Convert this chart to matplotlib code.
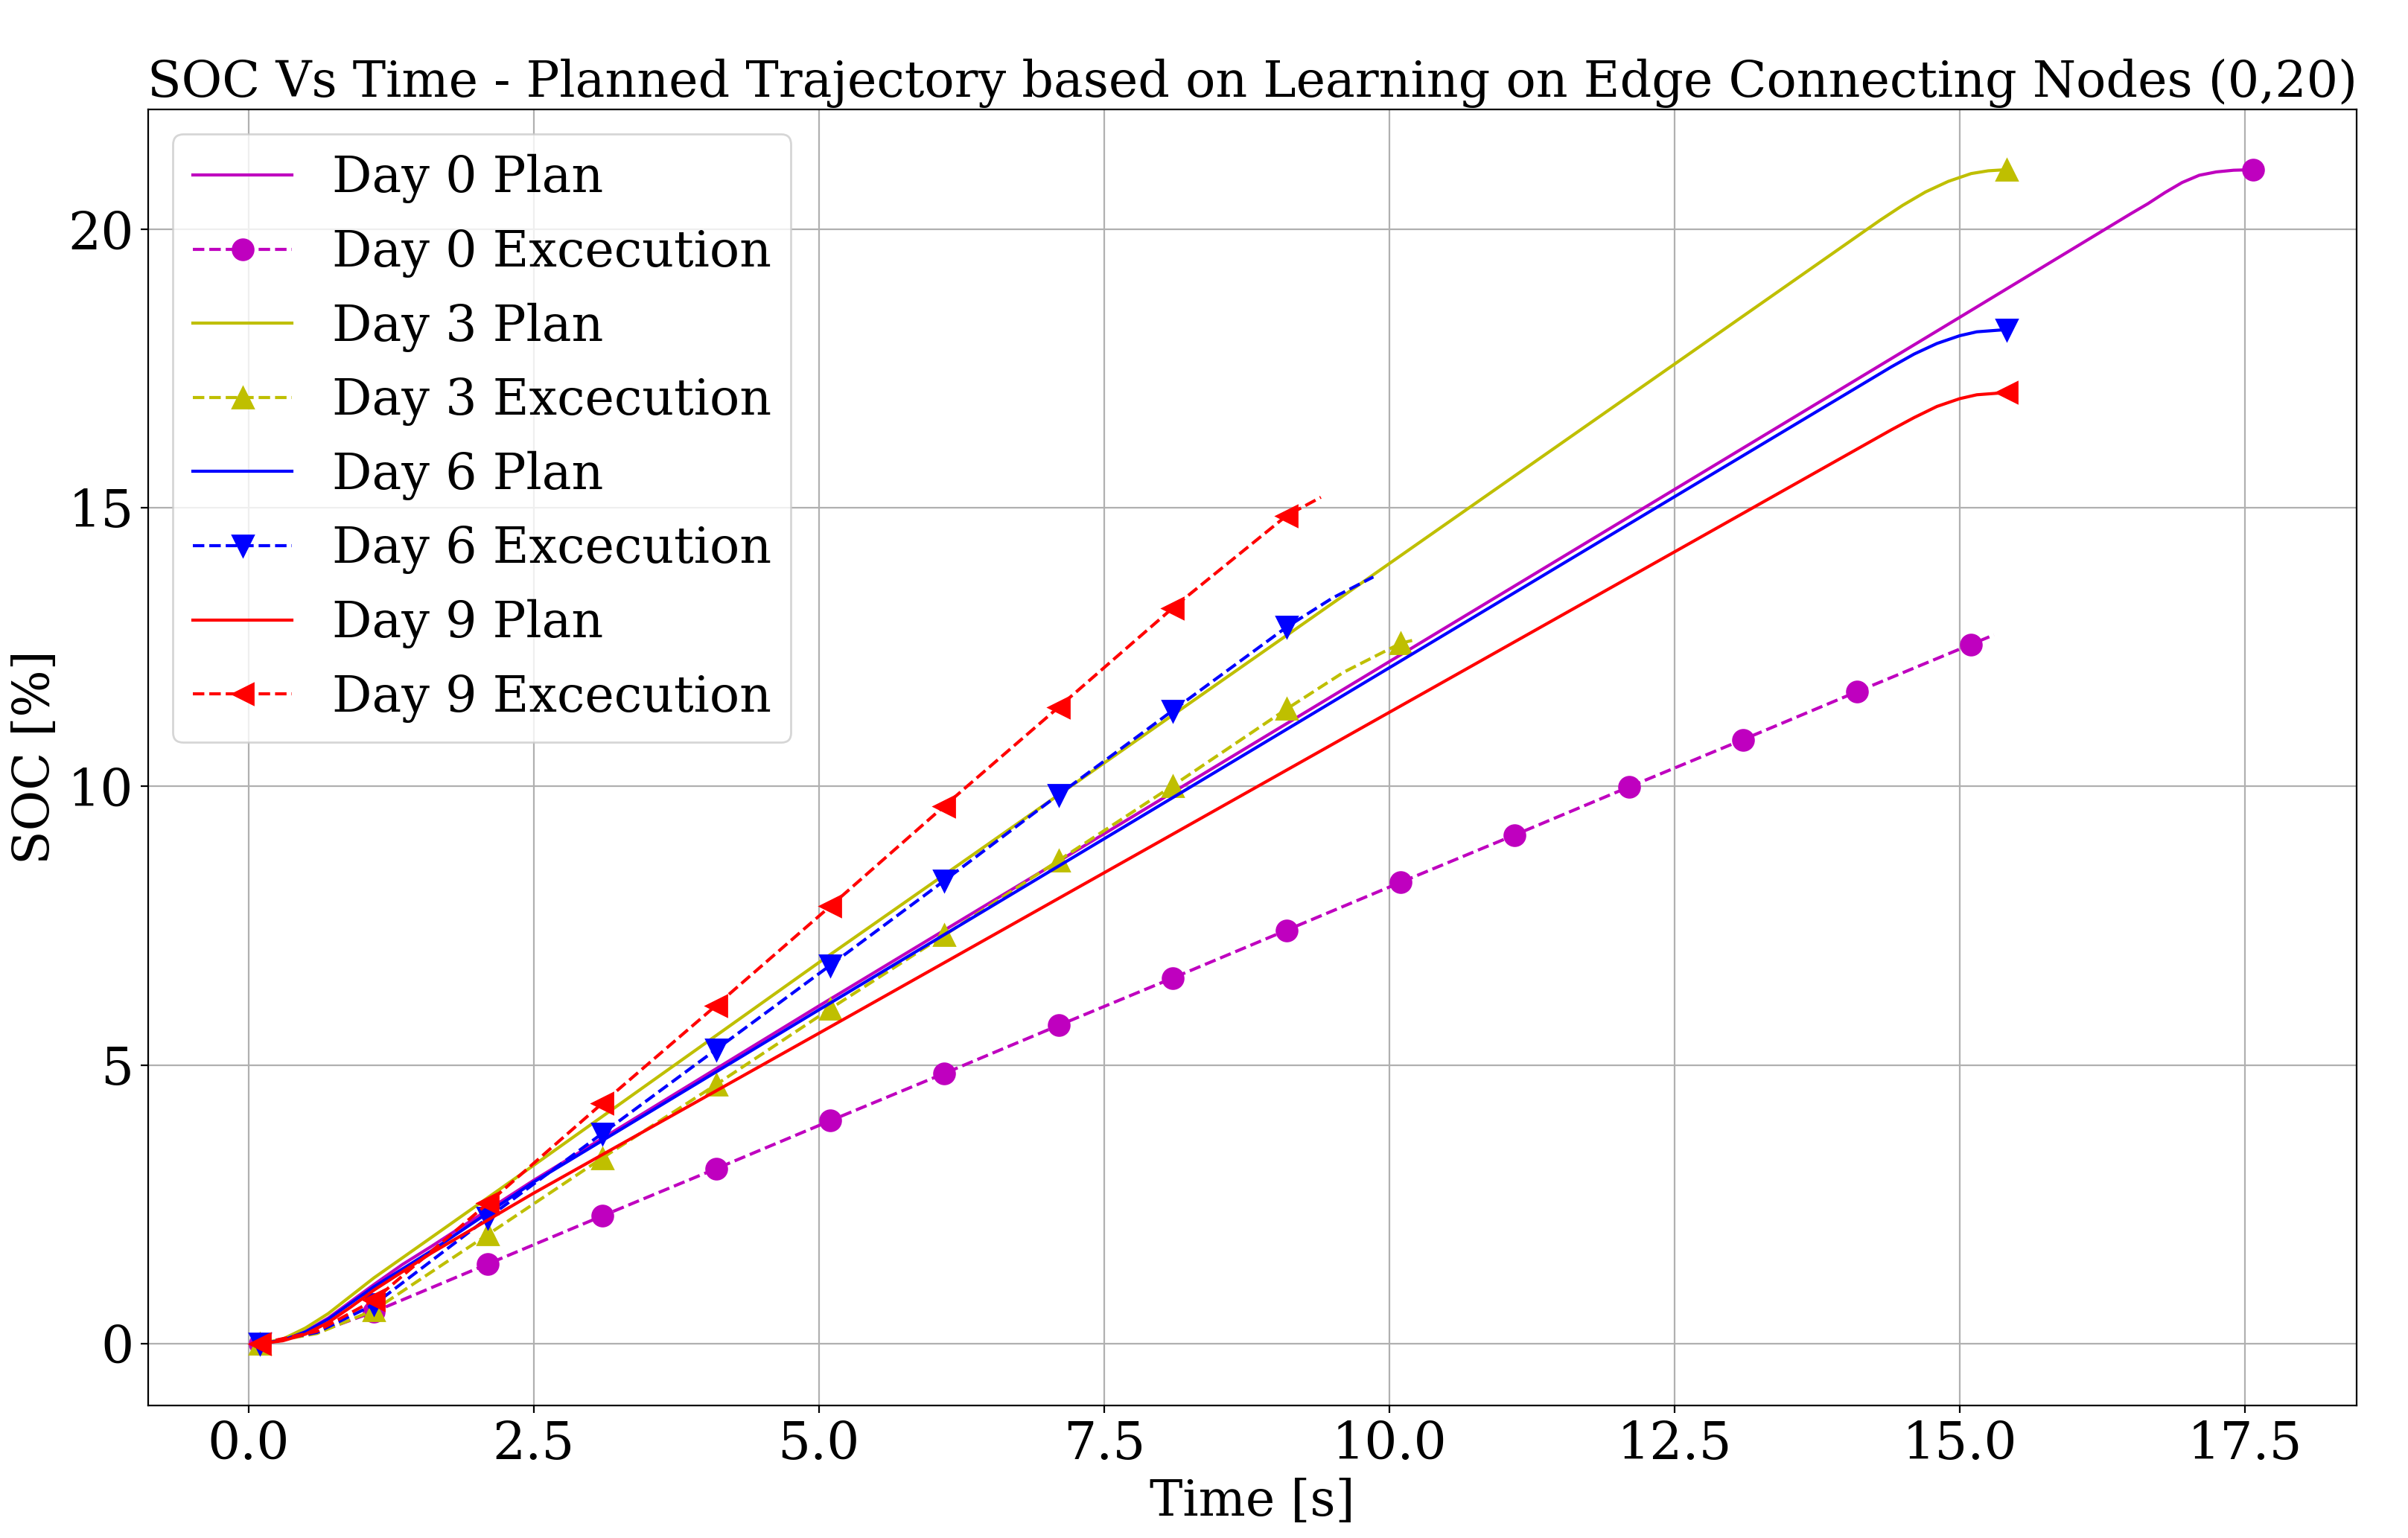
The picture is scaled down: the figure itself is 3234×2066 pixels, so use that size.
import numpy as np
import matplotlib
matplotlib.use("Agg")
import matplotlib.pyplot as plt

plt.rcParams['font.family'] = 'serif'
plt.rcParams['font.serif'] = ['DejaVu Serif']
plt.rcParams['font.size'] = 25

# planned trajectories (time [s], SOC [%])
plan0_t = [0.1, 0.3, 0.5, 0.7, 0.9, 1.1, 1.35, 1.6, 2.5, 5.0, 7.5, 10.0, 12.5, 15.0,
           16.5, 16.65, 16.8, 16.95, 17.1, 17.25, 17.4, 17.57]
plan0_soc = [0.0, 0.06, 0.22, 0.46, 0.76, 1.06, 1.42, 1.74, 2.93, 6.06, 9.15, 12.24, 15.33, 18.42,
             20.28, 20.46, 20.66, 20.84, 20.97, 21.03, 21.06, 21.07]

plan3_t = [0.1, 0.3, 0.5, 0.7, 0.9, 1.1, 1.6, 2.5, 5.0, 7.5, 10.0, 12.5, 14.3,
           14.5, 14.7, 14.9, 15.1, 15.25, 15.41]
plan3_soc = [0.0, 0.08, 0.28, 0.54, 0.86, 1.18, 1.9, 3.2, 6.84, 10.42, 14.0, 17.58, 20.16,
             20.43, 20.67, 20.86, 21.0, 21.05, 21.07]

plan6_t = [0.1, 0.3, 0.5, 0.7, 0.9, 1.1, 1.6, 2.5, 5.0, 7.5, 10.0, 12.5, 14.4,
           14.6, 14.8, 15.0, 15.15, 15.41]
plan6_soc = [0.0, 0.06, 0.21, 0.44, 0.73, 1.02, 1.66, 2.9, 5.99, 9.06, 12.13, 15.2, 17.53,
             17.76, 17.95, 18.09, 18.16, 18.2]

plan9_t = [0.1, 0.3, 0.5, 0.7, 0.9, 1.1, 1.6, 2.5, 5.0, 7.5, 10.0, 12.5, 14.4,
           14.6, 14.8, 15.0, 15.15, 15.41]
plan9_soc = [0.0, 0.05, 0.17, 0.38, 0.66, 0.96, 1.62, 2.7, 5.57, 8.45, 11.33, 14.21, 16.4,
             16.62, 16.82, 16.96, 17.03, 17.07]

# executed trajectories
exec0_t = [0.1, 0.6, 1.1, 2.1, 3.1, 4.1, 5.1, 6.1, 7.1, 8.1, 9.1, 10.1, 11.1, 12.1,
           13.1, 14.1, 15.1, 15.3]
exec0_soc = [0.0, 0.2, 0.57, 1.43, 2.29, 3.14, 4.0, 4.85, 5.71, 6.56, 7.42, 8.28, 9.13, 9.99,
             10.84, 11.7, 12.55, 12.72]

exec3_t = [0.1, 0.6, 1.1, 2.1, 3.1, 4.1, 5.1, 6.1, 7.1, 8.1, 9.1, 9.6, 10.1, 10.2]
exec3_soc = [0.0, 0.18, 0.6, 1.96, 3.33, 4.65, 6.01, 7.33, 8.67, 10.01, 11.39, 12.05, 12.57, 12.62]

exec6_t = [0.1, 0.6, 1.1, 2.1, 3.1, 4.1, 5.1, 6.1, 7.1, 8.1, 9.1, 9.5, 9.86]
exec6_soc = [0.0, 0.2, 0.7, 2.26, 3.77, 5.28, 6.79, 8.31, 9.85, 11.36, 12.86, 13.38, 13.76]

exec9_t = [0.1, 0.6, 1.1, 2.1, 3.1, 4.1, 5.1, 6.1, 7.1, 8.1, 9.1, 9.4]
exec9_soc = [0.0, 0.22, 0.78, 2.52, 4.31, 6.07, 7.85, 9.65, 11.42, 13.2, 14.86, 15.19]

days = [0, 3, 6, 9]
colors = ['m', 'y', 'b', 'r']
markers = ['o', '^', 'v', '<']
plans = [(plan0_t, plan0_soc), (plan3_t, plan3_soc), (plan6_t, plan6_soc), (plan9_t, plan9_soc)]
execs = [(exec0_t, exec0_soc), (exec3_t, exec3_soc), (exec6_t, exec6_soc), (exec9_t, exec9_soc)]


def sample_idx(t):
    # markers sit on the 1 s samples (x.1 s)
    return [i for i, v in enumerate(t) if round(v * 10) % 10 == 1]


fig = plt.figure(figsize=(16.17, 10.33), dpi=200)
ax = fig.add_subplot(111)
fig.subplots_adjust(left=0.0615, right=0.9787, bottom=0.0862, top=0.9288)

for d, c, m, (pt, ps), (et, es) in zip(days, colors, markers, plans, execs):
    ax.plot(pt, ps, '-', color=c, label=f'Day {d} Plan')
    ax.plot(et, es, '--', color=c, marker=m, markersize=10,
            markevery=sample_idx(et), label=f'Day {d} Excecution')
    ax.plot(pt[-1], ps[-1], marker=m, color=c, markersize=10, linestyle='none')

ax.set_xlim(-0.88, 18.48)
ax.set_ylim(-1.11, 22.15)
ax.set_xticks(np.arange(0, 17.6, 2.5))
ax.set_yticks([0, 5, 10, 15, 20])
ax.grid(True)
ax.set_xlabel('Time [s]', fontsize=24)
ax.set_ylabel('SOC [%]', fontsize=24)
ax.set_title('SOC Vs Time - Planned Trajectory based on Learning on Edge Connecting Nodes (0,20)',
             fontsize=24)
ax.legend(loc='upper left', fontsize=24)

fig.savefig('out.png', dpi=200)
